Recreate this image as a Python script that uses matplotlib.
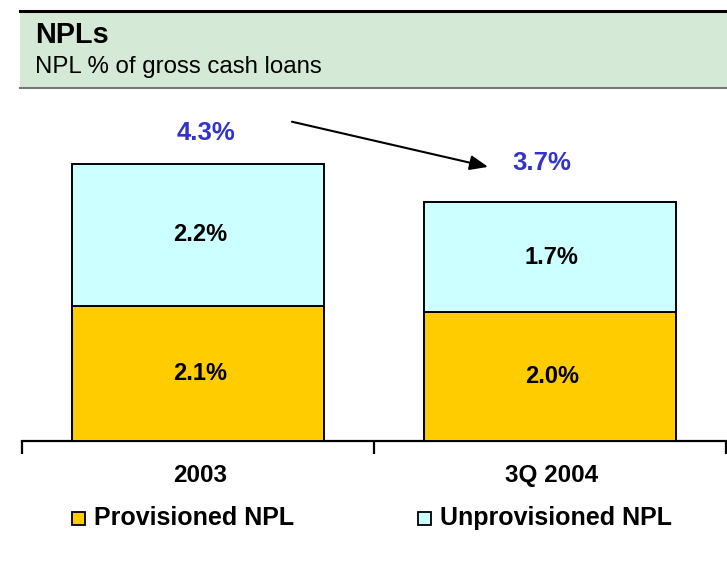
import matplotlib
matplotlib.use("Agg")
import matplotlib.pyplot as plt
from matplotlib.patches import Rectangle

categories = ["2003", "3Q 2004"]
provisioned = [2.1, 2.0]
unprovisioned = [2.2, 1.7]
totals = [4.3, 3.7]
series_names = ["Provisioned NPL", "Unprovisioned NPL"]
title = "NPLs"
subtitle = "NPL % of gross cash loans"

plt.rcParams['font.family'] = ['Liberation Sans', 'DejaVu Sans']

W, H = 727, 566
fig = plt.figure(figsize=(W / 100, H / 100), dpi=100)

def fx(x): return x / W
def fy(y): return 1 - y / H

# header band
fig.patches.append(Rectangle((fx(20), fy(88)), fx(727) - fx(20), fy(11) - fy(88),
                             transform=fig.transFigure, facecolor="#D5EAD6", edgecolor="none", zorder=0))
fig.add_artist(plt.Line2D([fx(20), 1], [fy(11), fy(11)], color="black", lw=2.2, transform=fig.transFigure))
fig.add_artist(plt.Line2D([fx(20), 1], [fy(88), fy(88)], color="#777777", lw=1.5, transform=fig.transFigure))
fig.text(fx(35), fy(35), title, fontsize=20.8, fontweight="bold", va="center", ha="left")
fig.text(fx(35), fy(67), subtitle, fontsize=17.3, va="center", ha="left")

# axes: x from 22 to 726 px, bottom at 441 px
ax_left, ax_right = 22, 726
ax_bottom, ax_top = 441, 100
ax = fig.add_axes([fx(ax_left), fy(ax_bottom), fx(ax_right) - fx(ax_left), fy(ax_top) - fy(ax_bottom)])
ppu = 64.5
ax.set_xlim(-0.5, 1.5)
ax.set_ylim(0, (ax_bottom - ax_top) / ppu)
ax.patch.set_alpha(0)

x = list(range(len(categories)))
width = 0.716
colors = ["#FFCC00", "#CCFFFF"]
ax.bar(x, provisioned, width=width, color=colors[0], edgecolor="black", linewidth=1.4, zorder=3)
ax.bar(x, unprovisioned, width=width, bottom=provisioned, color=colors[1], edgecolor="black", linewidth=1.4, zorder=3)

for i in x:
    ax.text(i + 0.005, provisioned[i] / 2, f"{provisioned[i]:.1f}%", ha="center", va="center",
            fontsize=17, fontweight="bold", zorder=4)
    ax.text(i + 0.005, provisioned[i] + unprovisioned[i] / 2, f"{unprovisioned[i]:.1f}%", ha="center",
            va="center", fontsize=17, fontweight="bold", zorder=4)

blue = "#3333CC"
ax.text(0.023, totals[0] + 0.47, f"{totals[0]:.1f}%", ha="center", va="center", fontsize=18.5,
        fontweight="bold", color=blue)
ax.text(0.977, totals[1] + 0.61, f"{totals[1]:.1f}%", ha="center", va="center", fontsize=18.5,
        fontweight="bold", color=blue)
ax.annotate("", xy=(0.824, totals[1] + 0.55), xytext=(0.267, totals[0] + 0.65),
            arrowprops=dict(arrowstyle="-|>,head_length=1.1,head_width=0.45", color="black", lw=1.5,
                            shrinkA=0, shrinkB=0))

for s in ["top", "right", "left"]:
    ax.spines[s].set_visible(False)
ax.spines["bottom"].set_linewidth(1.6)
ax.set_yticks([])
ax.set_xticks([-0.5, 0.5, 1.5])
ax.set_xticklabels([])
ax.tick_params(axis="x", direction="out", length=9, width=1.6)
for i, c in enumerate(categories):
    ax.text(i + 0.005, -0.53, c, ha="center", va="center", fontsize=17.5, fontweight="bold")

# legend
leg_y = fy(518)
for lx, name, col in [(72, series_names[0], colors[0]), (418, series_names[1], colors[1])]:
    fig.patches.append(Rectangle((fx(lx), leg_y - 6.5 / H), 13 / W, 13 / H, transform=fig.transFigure,
                                 facecolor=col, edgecolor="black", linewidth=1.3))
    fig.text(fx(lx + 22), leg_y, name, fontsize=18, fontweight="bold", va="center", ha="left")

fig.savefig("out.png", dpi=100)
